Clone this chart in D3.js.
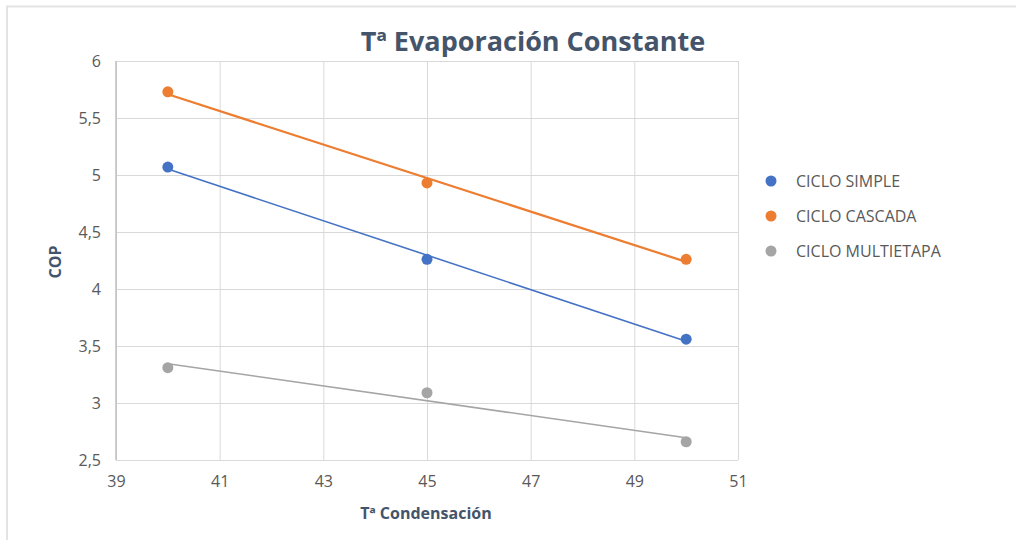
<!DOCTYPE html>
<html>
<head>
<meta charset="utf-8">
<script src="https://cdn.jsdelivr.net/npm/d3@7"></script>
<style>
  body { margin: 0; background: #fff; }
  svg { display: block; font-family: "Open Sans", sans-serif; }
</style>
</head>
<body>
<svg id="chart" width="1016" height="540"></svg>
<script>
var chartTitle = "Tª Evaporación Constante";
var xLabel = "Tª Condensación";
var yLabel = "COP";
var xValues = [40, 45, 50];
var seriesNames = ["CICLO SIMPLE", "CICLO CASCADA", "CICLO MULTIETAPA"];
var seriesColors = ["#4472C4", "#ED7D31", "#A5A5A5"];
var simple = [5.07, 4.26, 3.56];
var cascada = [5.73, 4.93, 4.26];
var multietapa = [3.31, 3.09, 2.66];
var xTicks = [39, 41, 43, 45, 47, 49, 51];
var yTicks = [2.5, 3, 3.5, 4, 4.5, 5, 5.5, 6];

var allSeries = [simple, cascada, multietapa];
var lineWidths = [1.6, 2.2, 1.6];

var svg = d3.select('#chart');

// frame lines of the screenshot
svg.append('line').attr('x1', 6).attr('x2', 1016).attr('y1', 6.5).attr('y2', 6.5)
    .style('stroke', '#e3e3e3').style('stroke-width', 2);
svg.append('line').attr('x1', 7).attr('x2', 7).attr('y1', 6).attr('y2', 540)
    .style('stroke', '#e3e3e3').style('stroke-width', 2);

var xScale = d3.scaleLinear().domain([39, 51]).range([116, 738]);
var yScale = d3.scaleLinear().domain([2.5, 6]).range([460, 61]);

// grid
var xGrid = d3.axisBottom(xScale).tickValues(xTicks).tickSize(-(460 - 61)).tickFormat('');
var yGrid = d3.axisLeft(yScale).tickValues(yTicks).tickSize(-(738 - 116)).tickFormat('');

svg.append('g').attr('transform', 'translate(0,460)').call(xGrid)
    .call(function (g) { g.select('.domain').remove(); })
    .selectAll('line').style('stroke', '#d9d9d9');
svg.append('g').attr('transform', 'translate(116,0)').call(yGrid)
    .call(function (g) { g.select('.domain').remove(); })
    .selectAll('line').style('stroke', '#d9d9d9');

// left axis line
svg.append('line').attr('x1', 116).attr('x2', 116).attr('y1', 61).attr('y2', 460)
    .style('stroke', '#bfbfbf').style('stroke-width', 1.5);

// tick labels
var xAxis = d3.axisBottom(xScale).tickValues(xTicks).tickSize(0).tickPadding(16);
var yAxis = d3.axisLeft(yScale).tickValues(yTicks).tickSize(0).tickPadding(15)
    .tickFormat(function (d) { return String(d).replace('.', ','); });

var gx = svg.append('g').attr('transform', 'translate(0,460)').call(xAxis);
var gy = svg.append('g').attr('transform', 'translate(116,0)').call(yAxis);
[gx, gy].forEach(function (g) {
    g.select('.domain').remove();
    g.selectAll('text').style('font-size', '16px').style('fill', '#595959')
        .style('font-family', '"Open Sans", sans-serif');
});

// trendlines (linear least squares)
allSeries.forEach(function (values, i) {
    var pts = xValues.map(function (x, j) { return [x, values[j]]; });
    var mx = d3.mean(pts, function (p) { return p[0]; });
    var my = d3.mean(pts, function (p) { return p[1]; });
    var slope = d3.sum(pts, function (p) { return (p[0] - mx) * (p[1] - my); }) /
        d3.sum(pts, function (p) { return (p[0] - mx) * (p[0] - mx); });
    var ends = [d3.min(xValues), d3.max(xValues)].map(function (x) {
        return [x, my + slope * (x - mx)];
    });
    svg.append('path')
        .datum(ends)
        .attr('d', d3.line().x(function (d) { return xScale(d[0]); }).y(function (d) { return yScale(d[1]); }))
        .style('fill', 'none')
        .style('stroke', seriesColors[i])
        .style('stroke-width', lineWidths[i]);
});

// points
allSeries.forEach(function (values, i) {
    svg.append('g').selectAll('circle')
        .data(values)
        .enter()
        .append('circle')
        .attr('cx', function (d, j) { return xScale(xValues[j]); })
        .attr('cy', function (d) { return yScale(d); })
        .attr('r', 5.5)
        .style('fill', seriesColors[i]);
});

// title and axis labels
svg.append('text')
    .attr('x', 533).attr('y', 51)
    .attr('text-anchor', 'middle')
    .style('font-size', '27px').style('font-weight', 'bold').style('fill', '#44546A')
    .text(chartTitle);

svg.append('text')
    .attr('x', 426).attr('y', 519)
    .attr('text-anchor', 'middle')
    .style('font-size', '16px').style('font-weight', 'bold').style('fill', '#44546A')
    .text(xLabel);

svg.append('text')
    .attr('transform', 'translate(61,262) rotate(-90)')
    .attr('text-anchor', 'middle')
    .style('font-size', '16px').style('font-weight', 'bold').style('fill', '#44546A')
    .text(yLabel);

// legend
var legend = svg.append('g').selectAll('g')
    .data(seriesNames)
    .enter()
    .append('g')
    .attr('transform', function (d, i) { return 'translate(771,' + (181 + i * 35) + ')'; });

legend.append('circle').attr('r', 5.5)
    .style('fill', function (d, i) { return seriesColors[i]; });
legend.append('text')
    .attr('x', 25).attr('y', 5.5)
    .style('font-size', '16px').style('fill', '#595959')
    .text(function (d) { return d; });
</script>
</body>
</html>
